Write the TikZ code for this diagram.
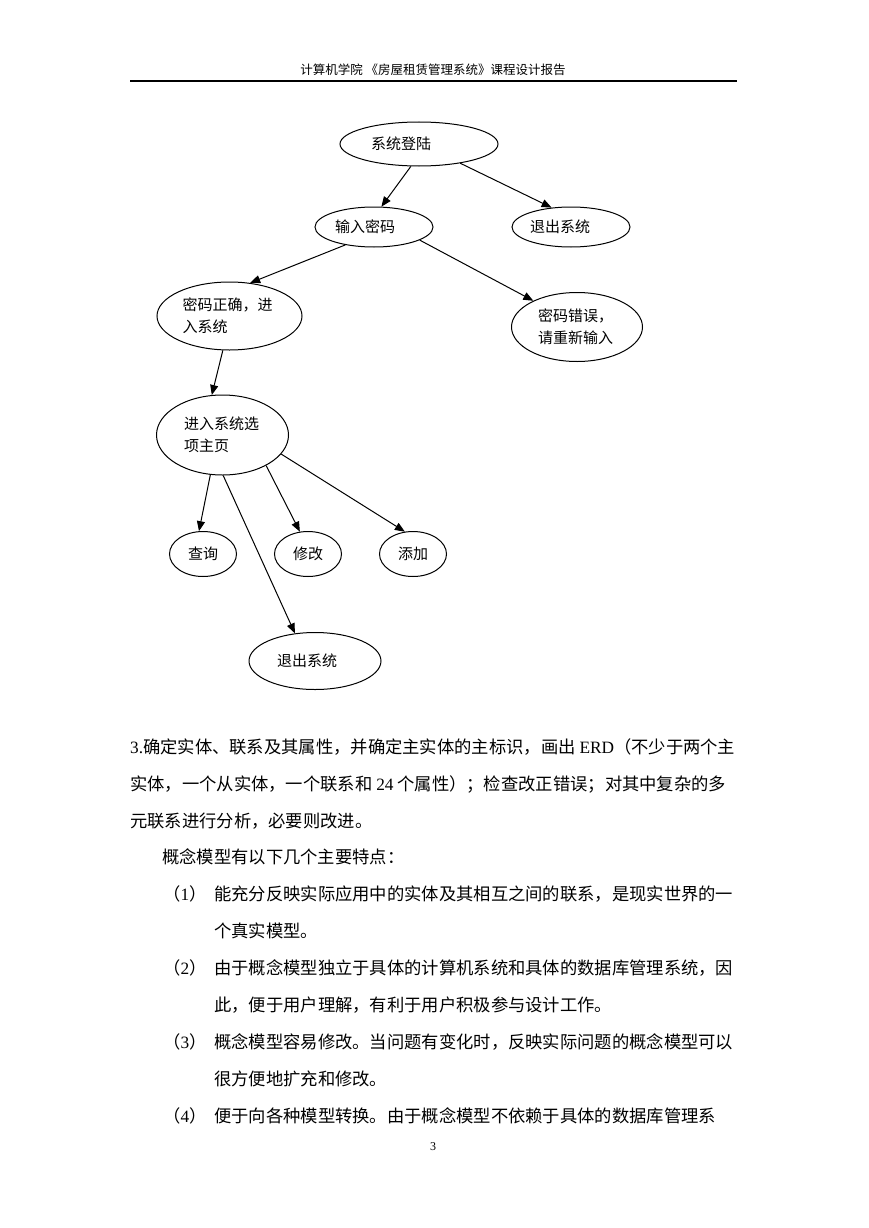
\documentclass[tikz,border=0pt]{standalone}
\usepackage{fontspec}
\setmainfont{Noto Sans CJK SC}
\newfontfamily\lat{Liberation Serif}
\usetikzlibrary{arrows.meta,positioning,shapes.geometric}
\XeTeXlinebreaklocale "zh"
\XeTeXlinebreakskip=0pt plus 2pt

\begin{document}
\begin{tikzpicture}[
    x=1pt, y=-1pt,
    state/.style={ellipse, draw, line width=1pt, inner sep=0pt, align=left,
                  font=\fontsize{15}{22}\selectfont},
    line/.style={-{Triangle[length=10pt,width=8pt]}, line width=1pt},
    body/.style={anchor=west, inner sep=0pt, font=\fontsize{17.3}{20}\selectfont},
    jbody/.style={body, text width=#1, align=justify}
]
  \useasboundingbox[fill=white] (0,0) rectangle (869,1228);

  % page header
  \node[font=\fontsize{12.5}{14}\selectfont] (hdr) at (433,70) {计算机学院~《房屋租赁管理系统》课程设计报告};
  \draw[line width=1.5pt] (130,81) -- (737,81);

  % flow of the login
  \node[state, minimum width=158pt, minimum height=44pt, text width=96pt] (login) at (419,144) {系统登陆};
  \node[state, minimum width=118pt, minimum height=40pt, text width=78pt] (pwd) at (374,227) {输入密码};
  \node[state, minimum width=118pt, minimum height=40pt, text width=82pt] (quit1) at (571,227) {退出系统};
  \node[state, minimum width=145pt, minimum height=68pt, text width=94pt] (ok) at (229.5,316) {密码正确，进\\入系统};
  \node[state, minimum width=131pt, minimum height=69pt, text width=78pt] (err) at (577,327) {密码错误，\\请重新输入};
  \node[state, minimum width=132pt, minimum height=80pt, text width=77pt] (home) at (222.5,435) {进入系统选\\项主页};
  \node[state, minimum width=67pt, minimum height=45pt] (query) at (203,554) {查询};
  \node[state, minimum width=67pt, minimum height=45pt] (edit) at (308,554) {修改};
  \node[state, minimum width=67pt, minimum height=45pt] (add) at (413,554) {添加};
  \node[state, minimum width=132pt, minimum height=57pt, text width=76pt] (quit2) at (315,661) {退出系统};

  \draw[line] (login.-110) -- (pwd.70);
  \draw[line] (login.-25) -- (quit1.135);
  \draw[line] (pwd.-148) -- (ok.58);
  \draw[line] (pwd.-16) -- (err.149);
  \draw[line] (ok.-101) -- (home.105);
  \draw[line] (home.-107) -- (query.100);
  \draw[line] (home.-89) -- (quit2.126);
  \draw[line] (home.-35) -- (edit.110);
  \draw[line] (home.-18) -- (add.110);

  % text of the page
  \node[jbody=607pt] (t1) at (130,747) {\noindent\parfillskip=0pt {\lat 3.}确定实体、联系及其属性，并确定主实体的主标识，画出 {\lat ERD}（不少于两个主};
  \node[jbody=607pt] (t2) at (130,784) {\noindent\parfillskip=0pt 实体，一个从实体，一个联系和 {\lat 24} 个属性）；检查改正错误；对其中复杂的多};
  \node[body] (t3) at (130,821) {元联系进行分析，必要则改进。};
  \node[body] (t4) at (162,857) {概念模型有以下几个主要特点：};
  \node[body] (n1) at (163,894) {（{\lat 1}）};
  \node[jbody=523pt] (t5) at (214,894) {\noindent\parfillskip=0pt 能充分反映实际应用中的实体及其相互之间的联系，是现实世界的一};
  \node[body] (t6) at (214,931) {个真实模型。};
  \node[body] (n2) at (163,968) {（{\lat 2}）};
  \node[jbody=523pt] (t7) at (214,968) {\noindent\parfillskip=0pt 由于概念模型独立于具体的计算机系统和具体的数据库管理系统，因};
  \node[body] (t8) at (214,1005) {此，便于用户理解，有利于用户积极参与设计工作。};
  \node[body] (n3) at (163,1042) {（{\lat 3}）};
  \node[jbody=523pt] (t9) at (214,1042) {\noindent\parfillskip=0pt 概念模型容易修改。当问题有变化时，反映实际问题的概念模型可以};
  \node[body] (t10) at (214,1079) {很方便地扩充和修改。};
  \node[body] (n4) at (163,1116) {（{\lat 4}）};
  \node[jbody=523pt] (t11) at (214,1116) {\noindent\parfillskip=0pt 便于向各种模型转换。由于概念模型不依赖于具体的数据库管理系};

  \node[font=\lat\fontsize{12}{14}\selectfont] (pg) at (433,1147) {3};
\end{tikzpicture}
\end{document}
